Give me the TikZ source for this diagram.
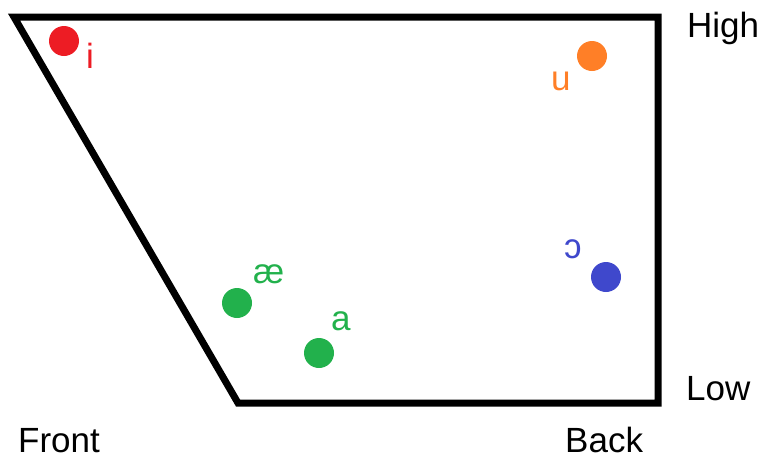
\documentclass[tikz,border=0pt]{standalone}
\usepackage{fontspec}
\setmainfont{Liberation Sans}
\usetikzlibrary{positioning}
\definecolor{paintred}{HTML}{ED1C24}
\definecolor{paintorange}{HTML}{FF7F27}
\definecolor{paintblue}{HTML}{3F48CC}
\definecolor{paintgreen}{HTML}{22B14C}
\begin{document}
\begin{tikzpicture}[
            x=1pt, y=-1pt,
            font=\fontsize{35}{40}\selectfont,
            % cerchi delle vocali
            vowel/.style={circle, fill=#1, draw=none, minimum size=30pt, inner sep=0pt},
            sym/.style={anchor=base west, inner sep=0pt, text=#1},
            axis/.style={anchor=base west, inner sep=0pt},
            chart/.style={line width=7pt, line join=miter}
        ]
        \useasboundingbox (0,0) rectangle (760,459);

        % Trapezio
        \coordinate (tl) at (14,17);
        \coordinate (tr) at (658,17);
        \coordinate (br) at (658,403);
        \coordinate (bl) at (238,403);
        \draw [chart] (tl) -- (tr) -- (br) -- (bl) -- cycle;

        % Vocali
        \node (vi)  [vowel=paintred]    at (64,41)   {};
        \node (vu)  [vowel=paintorange] at (592,56)  {};
        \node (vo)  [vowel=paintblue]   at (606,277) {};
        \node (vae) [vowel=paintgreen]  at (237,303) {};
        \node (va)  [vowel=paintgreen]  at (319,353) {};

        \node (li)  [sym=paintred]    at (86,68)   {i};
        \node (lu)  [sym=paintorange] at (551,90)  {u};
        \node (lo)  [sym=paintblue]   at (564,258) {ɔ};
        \node (lae) [sym=paintgreen]  at (253,283) {æ};
        \node (la)  [sym=paintgreen]  at (331,330) {a};

        % Assi
        \node (high)  [axis] at (687,37)  {High};
        \node (low)   [axis] at (686,400) {Low};
        \node (front) [axis] at (18,452)  {Front};
        \node (back)  [axis] at (565,452) {Back};

    \end{tikzpicture}
\end{document}
